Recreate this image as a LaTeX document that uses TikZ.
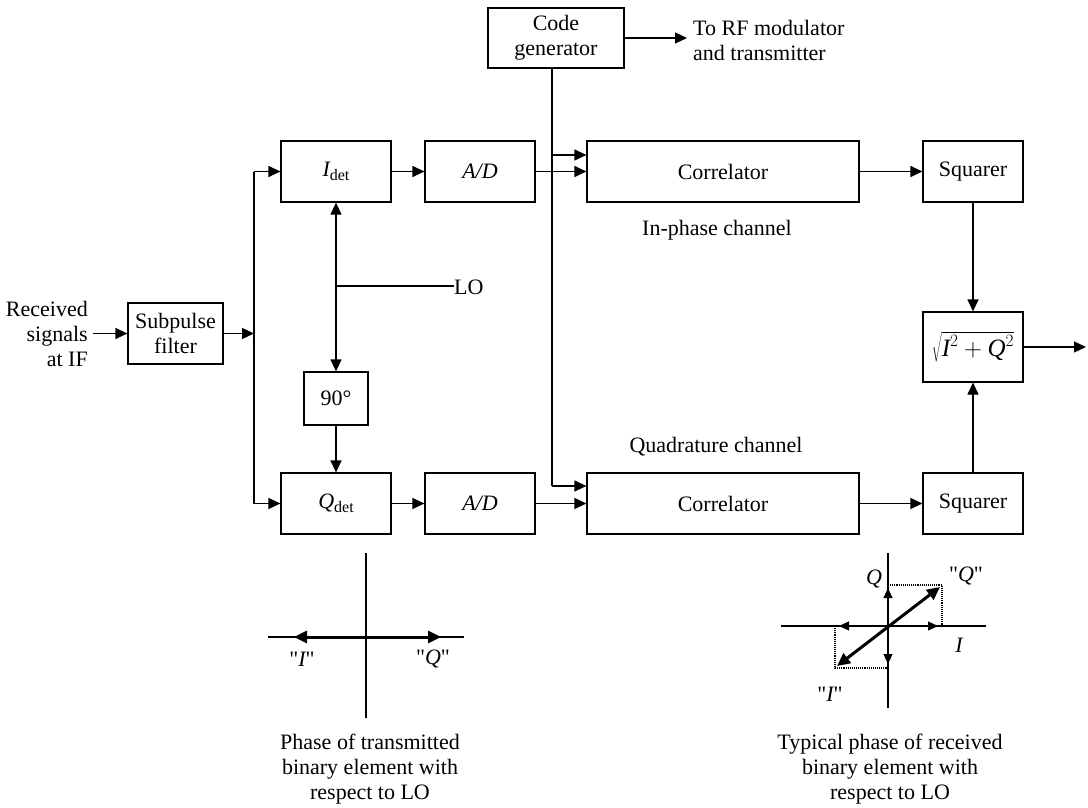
\documentclass[tikz,border=0pt]{standalone}
\usepackage{fontspec}
\setmainfont{Liberation Serif}
\newfontfamily\qfont{Liberation Serif}
\usetikzlibrary{arrows.meta}
\newcommand\dfont{\fontsize{22}{25}\selectfont}
\newcommand\iv[1]{\mbox{\itshape #1}}
\newcommand\qq{{\qfont"}}
\newcommand\dsub[1]{\raisebox{-0.4ex}{\fontsize{16}{18}\selectfont #1}}
\begin{document}
\begin{tikzpicture}[x=1pt,y=-1pt,
  blk/.style={draw, line width=1.2pt, inner sep=0pt, align=center, font=\dfont},
  lbl/.style={inner sep=0pt, align=center, font=\dfont},
  ln/.style={line width=1.2pt},
  arr/.style={line width=1.2pt, -{Triangle[length=12pt,width=11pt]}},
  darr/.style={line width=1.2pt, {Triangle[length=12pt,width=11pt]}-{Triangle[length=12pt,width=11pt]}},
  sarr/.style={line width=1.2pt, -{Triangle[length=10pt,width=9pt]}},
  thick2/.style={line width=3pt, {Triangle[length=13pt,width=12pt]}-{Triangle[length=13pt,width=12pt]}},
  axis/.style={line width=1.2pt},
  dots/.style={line width=1.1pt, densely dotted}]
\useasboundingbox (0,0) rectangle (1088,808);

% ---- input stage ----
\node[lbl, anchor=east, align=right] (recv) at (88,334) {Received\\signals\\at IF};
\node[blk, minimum width=95pt, minimum height=61pt] (sub) at (175.5,333.5) {Subpulse\\filter};
\draw[arr] ([xshift=5pt]recv.east |- sub.west) -- (sub.west);

% ---- detectors and converters ----
\node[blk, minimum width=110pt, minimum height=61pt] (idet) at (336,171.5) {\iv{I}\dsub{det}};
\node[blk, minimum width=110pt, minimum height=61pt] (qdet) at (336,503.5) {\iv{Q}\dsub{det}};
\node[blk, minimum width=110pt, minimum height=61pt] (adi) at (480,171.5) {\iv{A/D}};
\node[blk, minimum width=110pt, minimum height=61pt] (adq) at (480,503.5) {\iv{A/D}};
\node[blk, minimum width=64pt, minimum height=53pt] (ph) at (336,398.5) {90°};

\coordinate (split) at (254,333.5);
\draw[arr] (sub.east) -- (split);
\draw[ln] (split |- idet.west) -- (split |- qdet.west);
\draw[arr] (split |- idet.west) -- (idet.west);
\draw[arr] (split |- qdet.west) -- (qdet.west);
\draw[arr] (idet.east) -- (adi.west);
\draw[arr] (qdet.east) -- (adq.west);

% ---- local oscillator ----
\coordinate (lo) at (336,286);
\node[lbl, anchor=west] (lotext) at (454,287) {LO};
\draw[ln] (lo) -- (lotext.west |- lo);
\draw[darr] (idet.south) -- (ph.north);
\draw[arr] (ph.south) -- (qdet.north);

% ---- code generator ----
\node[blk, minimum width=136pt, minimum height=60pt] (code) at (556,38) {Code\\generator};
\node[lbl, anchor=west, align=left] (rf) at (693,40) {To RF modulator\\and transmitter};
\draw[arr] (code.east) -- ([xshift=-6pt]rf.west |- code.east);

% ---- correlators ----
\node[blk, minimum width=272pt, minimum height=61pt] (cori) at (723,171.5) {Correlator};
\node[blk, minimum width=272pt, minimum height=61pt] (corq) at (723,503.5) {Correlator};
\node[lbl] (inph) at (717,230) {In-phase channel};
\node[lbl] (quad) at (716,447) {Quadrature channel};

\coordinate (cs) at (552,68);
\coordinate (ct) at (552,155);
\coordinate (cb) at (552,486);
\draw[ln] (cs) -- (cb);
\draw[arr] (ct) -- (cori.west |- ct);
\draw[arr] (cb) -- (corq.west |- cb);
\draw[arr] (adi.east) -- (cori.west |- adi.east);
\draw[arr] (adq.east) -- (corq.west |- adq.east);

% ---- squarers and magnitude ----
\node[blk, minimum width=100pt, minimum height=61pt] (sqi) at (973,171.5) {Squarer};
\node[blk, minimum width=100pt, minimum height=61pt] (sqq) at (973,503.5) {Squarer};
\node[blk, minimum width=100pt, minimum height=70pt, font=\fontsize{25}{30}\selectfont] (root) at (973,347) {$\sqrt{\iv{I}^{2}+\iv{Q}^{2}}$};
\coordinate (out) at (1086,347);
\draw[arr] (cori.east) -- (sqi.west);
\draw[arr] (corq.east) -- (sqq.west);
\draw[arr] (sqi.south) -- (root.north);
\draw[arr] (sqq.north) -- (root.south);
\draw[arr] (root.east) -- (out);

% ---- transmitted phase ----
\coordinate (o1) at (366,637);
\draw[axis] (268,637) -- (464,637);
\draw[axis] (366,553) -- (366,718);
\draw[thick2] (294,637) -- (441,637);
\node[lbl] at (302,659) {\qq\iv{I}\qq};
\node[lbl] at (433,659) {\qq\iv{Q}\qq};
\node[lbl] at (370,769) {Phase of transmitted\\binary element with\\respect to LO};

% ---- received phase ----
\coordinate (o2) at (888,626);
\draw[axis] (781,626) -- (986,626);
\draw[axis] (888,553) -- (888,708);
\draw[dots] (888,585) -- (942,585) -- (942,626);
\draw[dots] (835,626) -- (835,668) -- (888,668);
\draw[sarr] (o2) -- (888,588);
\draw[sarr] (o2) -- (938,626);
\draw[sarr] (o2) -- (839,626);
\draw[sarr] (o2) -- (888,664);
\draw[thick2] (837,666) -- (940,587);
\node[lbl] at (874,579) {\iv{Q}};
\node[lbl] at (966,576) {\qq\iv{Q}\qq};
\node[lbl] at (959,645) {\iv{I}};
\node[lbl] at (830,694) {\qq\iv{I}\qq};
\node[lbl] at (890,769) {Typical phase of received\\binary element with\\respect to LO};
\end{tikzpicture}
\end{document}
